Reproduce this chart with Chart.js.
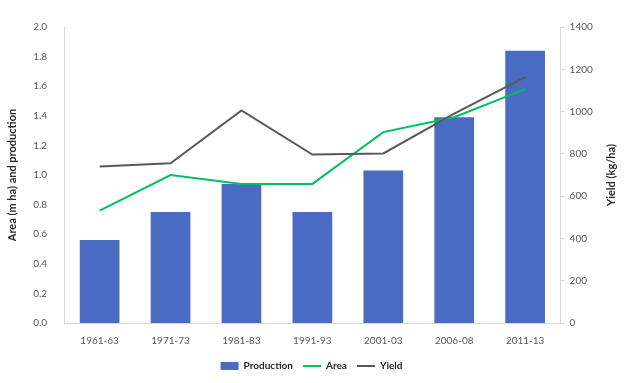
<!DOCTYPE html>
<html lang="en">
<head>
  <meta charset="UTF-8" />
  <title>Area, production and yield</title>
  <script src="https://cdn.jsdelivr.net/npm/chart.js"></script>
  <style>
    body {
      margin: 0;
      padding: 0;
      background-color: #ffffff;
    }

    .chart-container {
      width: 624px;
      height: 383px;
      position: relative;
    }
  </style>
</head>
<body>
  <div class="chart-container">
    <canvas id="mainChart"></canvas>
  </div>

  <script>
    const periods = ['1961-63', '1971-73', '1981-83', '1991-93', '2001-03', '2006-08', '2011-13'];
    const production = [0.56, 0.75, 0.94, 0.75, 1.03, 1.39, 1.84];
    const area = [0.76, 1.00, 0.94, 0.94, 1.29, 1.39, 1.58];
    const yieldKg = [740, 755, 1005, 797, 802, 990, 1163];

    const tickColor = '#595959';
    const axisColor = '#d9d9d9';
    const titleColor = '#262626';
    const fontFamily = "Lato, 'Open Sans', sans-serif";

    // right axis title reads bottom-to-top like the left one
    const rightTitle = {
      id: 'rightTitle',
      afterDraw(chart) {
        const scale = chart.scales.yRight;
        const c = chart.ctx;
        c.save();
        c.translate(scale.right - 10, (scale.top + scale.bottom) / 2);
        c.rotate(-Math.PI / 2);
        c.fillStyle = titleColor;
        c.font = 'bold 11px ' + fontFamily;
        c.textAlign = 'center';
        c.textBaseline = 'middle';
        c.fillText('Yield (kg/ha)', 0, 0);
        c.restore();
      }
    };

    const ctx = document.getElementById('mainChart').getContext('2d');

    new Chart(ctx, {
      data: {
        labels: periods,
        datasets: [
          {
            type: 'line',
            label: 'Yield',
            data: yieldKg,
            yAxisID: 'yRight',
            borderColor: '#595959',
            backgroundColor: '#595959',
            borderWidth: 2,
            pointRadius: 0,
            tension: 0,
            order: 1
          },
          {
            type: 'line',
            label: 'Area',
            data: area,
            yAxisID: 'yLeft',
            borderColor: '#00c060',
            backgroundColor: '#00c060',
            borderWidth: 2,
            pointRadius: 0,
            tension: 0,
            order: 2
          },
          {
            type: 'bar',
            label: 'Production',
            data: production,
            yAxisID: 'yLeft',
            backgroundColor: '#4a6bc2',
            categoryPercentage: 0.56,
            barPercentage: 1.0,
            order: 3
          }
        ]
      },
      plugins: [rightTitle],
      options: {
        responsive: true,
        maintainAspectRatio: false,
        animation: false,
        layout: {
          padding: { left: 2, right: 3, top: 27, bottom: 2 }
        },
        scales: {
          x: {
            grid: { display: false },
            border: { display: true, color: axisColor, width: 1 },
            ticks: {
              color: tickColor,
              font: { family: fontFamily, size: 10 },
              maxRotation: 0,
              padding: 4
            }
          },
          yLeft: {
            position: 'left',
            min: 0,
            max: 2,
            grid: { display: false },
            border: { display: true, color: axisColor, width: 1 },
            ticks: {
              stepSize: 0.2,
              color: tickColor,
              font: { family: fontFamily, size: 10 },
              padding: 9,
              callback: v => v.toFixed(1)
            },
            title: {
              display: true,
              text: 'Area (m ha) and production',
              color: titleColor,
              font: { family: fontFamily, size: 11, weight: 'bold' },
              padding: { bottom: 5 }
            }
          },
          yRight: {
            position: 'right',
            min: 0,
            max: 1400,
            grid: {
              display: true,
              drawOnChartArea: false,
              drawTicks: true,
              tickLength: 4,
              color: axisColor
            },
            border: { display: true, color: axisColor, width: 1 },
            ticks: {
              stepSize: 200,
              color: tickColor,
              font: { family: fontFamily, size: 10 },
              padding: 5,
              callback: v => String(v)
            },
            title: {
              display: true,
              text: 'Yield (kg/ha)',
              color: 'rgba(0,0,0,0)',
              font: { family: fontFamily, size: 11, weight: 'bold' },
              padding: { top: 6 }
            }
          }
        },
        plugins: {
          legend: {
            position: 'bottom',
            labels: {
              usePointStyle: true,
              pointStyleWidth: 18,
              boxHeight: 8,
              color: titleColor,
              padding: 10,
              font: { family: fontFamily, size: 10, weight: 'bold' },
              sort: (a, b) => b.datasetIndex - a.datasetIndex,
              generateLabels: chart => {
                const items = Chart.defaults.plugins.legend.labels.generateLabels(chart);
                items.forEach(item => {
                  const ds = chart.data.datasets[item.datasetIndex];
                  item.pointStyle = ds.type === 'bar' ? 'rect' : 'line';
                  item.lineWidth = ds.type === 'bar' ? 0 : 2;
                });
                return items;
              }
            }
          },
          tooltip: { enabled: false }
        }
      }
    });
  </script>
</body>
</html>
